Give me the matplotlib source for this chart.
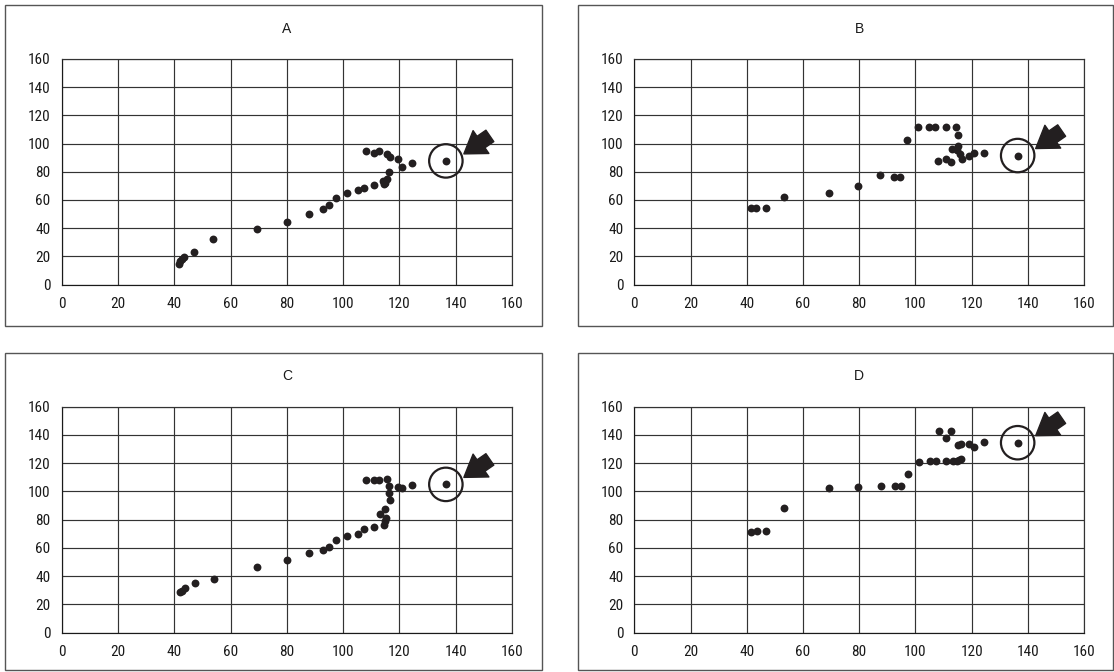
import matplotlib
matplotlib.use("Agg")
import matplotlib.pyplot as plt
from matplotlib import font_manager
from matplotlib.patches import Rectangle
from matplotlib.transforms import ScaledTranslation

# pick a narrow sans if one is installed
names = {f.name for f in font_manager.fontManager.ttflist}
for fam in ["Liberation Sans Narrow", "Roboto Condensed", "Liberation Sans"]:
    if fam in names:
        plt.rcParams["font.family"] = [fam, "DejaVu Sans"]
        break

# --- data ---
panel_labels = ["A", "B", "C", "D"]
ticks = [0, 20, 40, 60, 80, 100, 120, 140, 160]

A_x = [41.8, 42.0, 42.6, 43.6, 47.1, 53.7, 69.4, 79.9, 87.7, 92.8, 95.0, 97.3, 101.4,
       105.2, 107.3, 111.1, 114.3, 114.6, 115.0, 115.5, 116.4, 108.2, 111.0, 112.6,
       115.6, 116.7, 119.6, 121.0, 124.6, 136.5]
A_y = [14.8, 16.5, 18.1, 19.5, 22.8, 32.0, 39.1, 44.7, 50.1, 53.4, 56.7, 61.6, 65.2,
       67.1, 68.7, 70.4, 73.6, 71.3, 72.0, 75.1, 79.8, 94.6, 93.6, 94.6,
       92.5, 90.6, 88.7, 83.1, 85.9, 87.7]

B_x = [41.5, 43.2, 46.9, 53.4, 69.2, 79.6, 87.4, 92.4, 94.7, 97.0, 101.1, 104.9, 107.0,
       110.9, 114.4, 115.1, 115.1, 112.9, 114.7, 115.9, 116.5, 107.9, 110.9, 112.6,
       119.2, 120.9, 124.3, 136.4]
B_y = [54.4, 54.4, 54.4, 61.9, 65.0, 69.9, 77.6, 76.5, 76.5, 102.8, 111.5, 111.5, 111.5,
       111.5, 111.5, 106.4, 98.6, 96.0, 95.1, 92.5, 88.9, 87.3, 88.9, 86.6,
       91.3, 93.4, 93.4, 91.5]

C_x = [42.0, 42.6, 43.7, 47.5, 54.2, 69.4, 79.9, 87.7, 92.8, 95.0, 97.3, 101.4, 105.2,
       107.3, 111.1, 114.6, 115.0, 115.2, 113.1, 115.0, 116.7, 116.4, 116.4, 115.7,
       108.2, 111.0, 112.6, 119.6, 121.0, 124.6, 136.5]
C_y = [28.5, 29.6, 31.5, 35.1, 38.1, 46.2, 51.4, 56.6, 58.9, 60.8, 65.5, 68.4, 70.0,
       73.1, 75.0, 76.4, 78.8, 80.9, 83.7, 87.7, 93.9, 98.6, 103.8, 108.8,
       107.8, 108.0, 107.8, 102.9, 102.1, 104.7, 105.0]

D_x = [41.5, 43.5, 46.9, 53.4, 69.3, 79.5, 87.7, 92.6, 94.8, 97.4, 101.2, 105.2, 107.2,
       110.9, 113.3, 114.8, 115.7, 116.4, 108.3, 112.7, 111.0, 115.2, 116.4, 119.2,
       120.9, 124.4, 136.4]
D_y = [71.3, 72.1, 72.3, 88.1, 102.3, 103.5, 104.0, 104.0, 104.0, 112.5, 120.8, 121.9, 121.9,
       121.9, 121.9, 121.9, 122.6, 123.1, 142.7, 142.7, 138.0, 132.8, 133.5, 133.3,
       131.6, 134.7, 134.5]

series = [(A_x, A_y), (B_x, B_y), (C_x, C_y), (D_x, D_y)]

W, H = 1114, 672
fig = plt.figure(figsize=(W / 100, H / 100), dpi=100)

def px_rect(l, t, r, b):
    return [l / W, 1 - b / H, (r - l) / W, (b - t) / H]

axes_px = [(61.7, 59, 512, 284.5), (634.3, 59, 1084, 284.5),
           (61.7, 406.7, 512, 632.7), (634.3, 406.7, 1084, 632.7)]
boxes_px = [(5, 5, 542, 326), (578, 5, 1113, 326),
            (5, 353, 542, 670), (578, 353, 1113, 670)]

ink = "#231f20"
grid = "#333333"

for (l, t, r, b) in boxes_px:
    fig.patches.append(Rectangle((l / W, 1 - b / H), (r - l) / W, (b - t) / H,
                                 transform=fig.transFigure, fill=False,
                                 edgecolor="#555555", linewidth=1.0))

for label, (xs, ys), rect in zip(panel_labels, series, axes_px):
    ax = fig.add_axes(px_rect(*rect))
    ax.set_xlim(0, 160)
    ax.set_ylim(0, 160)
    ax.set_xticks(ticks)
    ax.set_yticks(ticks)
    ax.grid(True, color=grid, linewidth=0.85)
    ax.set_axisbelow(True)
    for s in ax.spines.values():
        s.set_color(grid)
        s.set_linewidth(0.85)
    ax.spines["left"].set_color("#1a1a1a")
    ax.spines["bottom"].set_color("#1a1a1a")
    ax.tick_params(length=0, labelsize=11, colors="#1a1a1a")
    ax.tick_params(axis="y", pad=8)
    ax.tick_params(axis="x", pad=9)
    ax.set_title(label, fontsize=10, pad=19, color="#1a1a1a",
                 family=["Liberation Sans", "DejaVu Sans"])

    ax.scatter(xs, ys, s=32, color=ink, zorder=3, linewidths=0)

    # highlighted last point: ring plus fat arrow
    hx, hy = xs[-1], ys[-1]
    ax.scatter([hx], [hy], s=580, facecolors="none", edgecolors=ink,
               linewidths=1.6, zorder=4)
    tip = ax.transData + ScaledTranslation(18 / 100, 7 / 100, fig.dpi_scale_trans)
    tail = ax.transData + ScaledTranslation(44 / 100, 25 / 100, fig.dpi_scale_trans)
    ax.annotate("", xy=(hx, hy), xycoords=tip, xytext=(hx, hy), textcoords=tail,
                arrowprops=dict(arrowstyle="simple,head_length=0.75,head_width=1.0,tail_width=0.5",
                                mutation_scale=20, fc=ink, ec=ink,
                                shrinkA=0, shrinkB=0),
                annotation_clip=False, zorder=5)

fig.savefig("out.png", dpi=100)
